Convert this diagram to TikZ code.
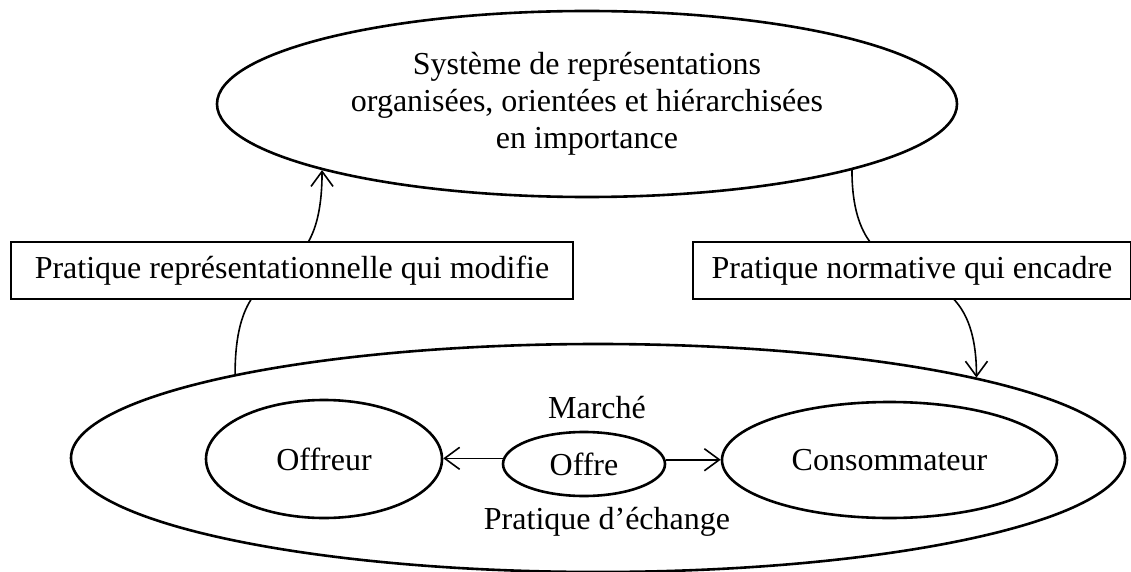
\documentclass[tikz,border=0pt]{standalone}
\usepackage{fontspec}
\setmainfont{Liberation Serif}
\usetikzlibrary{shapes.geometric,arrows.meta}
\begin{document}
\begin{tikzpicture}[x=1pt,y=-1pt,
  every node/.style={font=\fontsize{32}{37}\selectfont},
  oval/.style={draw,ellipse,line width=2.6pt,inner sep=0pt},
  labelbox/.style={draw,fill=white,line width=2pt,minimum height=57pt,inner sep=0pt,anchor=west},
  conn/.style={line width=1.6pt,-{Straight Barb[length=15pt,width=22pt]}},
  plain/.style={inner sep=0pt}]
\useasboundingbox (0,0) rectangle (1131,572);
\node[oval,minimum width=740pt,minimum height=186pt,align=center] (sys) at (587,104) {Système de représentations\\organisées, orientées et hiérarchisées\\en importance};
\node[oval,minimum width=1054pt,minimum height=228pt] (marche) at (598,458) {};
\node[oval,minimum width=236pt,minimum height=118pt] (offreur) at (324,459) {Offreur};
\node[oval,minimum width=162pt,minimum height=64pt] (offre) at (584,464) {Offre};
\node[oval,minimum width=335pt,minimum height=116pt] (conso) at (889.5,460) {Consommateur};
\node[plain,anchor=base] (lmarche) at (597,418) {Marché};
\node[plain,anchor=base] (lech) at (607,529) {Pratique d’échange};
\draw[conn] (marche.167.8) .. controls +(0,-138) and +(0,138) .. (sys.194);
\draw[conn] (sys.346.3) .. controls +(0,147) and +(0,-147) .. (marche.12.35);
\draw[conn] (offre.176.5) -- (offre.176.5 -| offreur.east);
\draw[conn] (offre.3.5) -- (offre.3.5 -| conso.west);
\node[labelbox,minimum width=562pt] (b1) at (10,270.5) {Pratique représentationnelle qui modifie};
\node[labelbox,minimum width=438pt] (b2) at (692,270.5) {Pratique normative qui encadre};
\end{tikzpicture}
\end{document}
